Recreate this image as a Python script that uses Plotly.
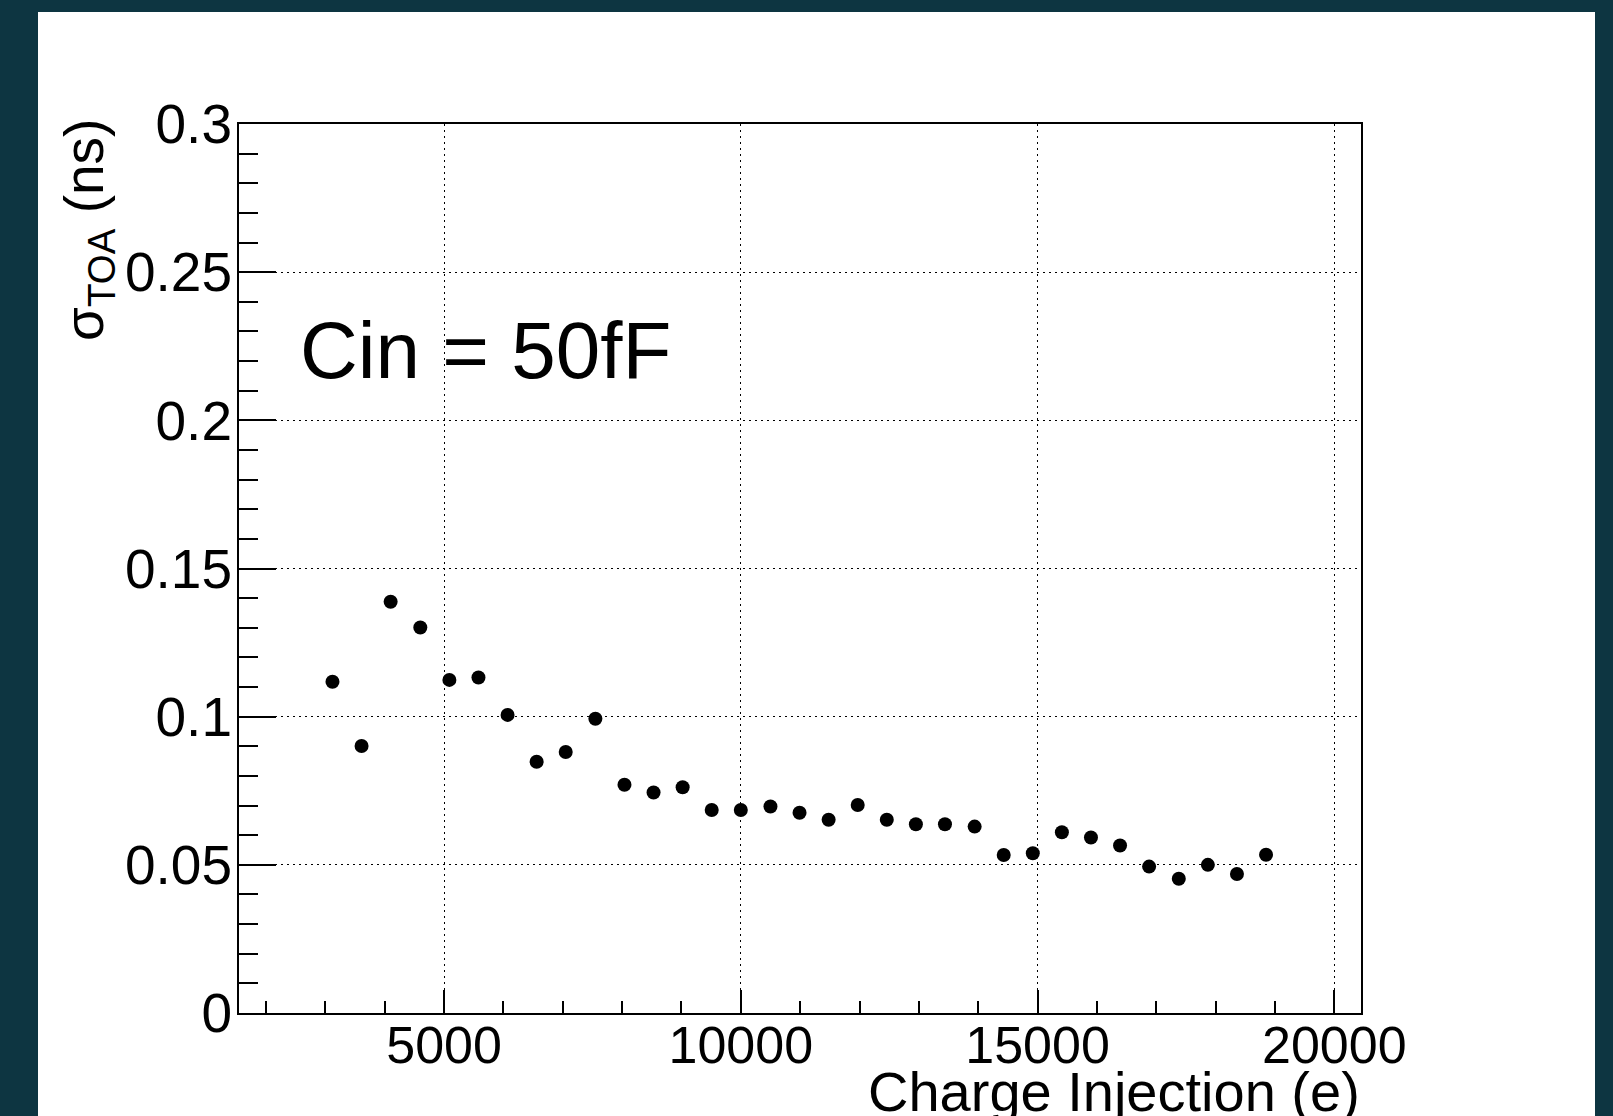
import plotly.graph_objects as go

# ---- data ----
charge_e = [3120, 3610, 4100, 4600, 5090, 5580, 6070, 6560, 7050, 7550,
            8040, 8530, 9020, 9510, 10000, 10500, 10990, 11480, 11970, 12460,
            12950, 13440, 13940, 14430, 14920, 15410, 15900, 16390, 16880, 17380,
            17870, 18360, 18850]
sigma_toa_ns = [0.1118, 0.0901, 0.1388, 0.1301, 0.1124, 0.1132, 0.1006, 0.0848, 0.0881, 0.0993,
                0.0770, 0.0744, 0.0762, 0.0685, 0.0685, 0.0697, 0.0676, 0.0652, 0.0702, 0.0652,
                0.0637, 0.0637, 0.0629, 0.0533, 0.0539, 0.0610, 0.0592, 0.0565, 0.0494, 0.0453,
                0.0500, 0.0469, 0.0534]

x_major = [5000, 10000, 15000, 20000]
x_major_labels = ["5000", "10000", "15000", "20000"]
x_minor = [2000, 3000, 4000, 6000, 7000, 8000, 9000, 11000, 12000, 13000, 14000,
           16000, 17000, 18000, 19000]
y_major = [0, 0.05, 0.1, 0.15, 0.2, 0.25, 0.3]
y_major_labels = ["0", "0.05", "0.1", "0.15", "0.2", "0.25", "0.3"]
y_minor = [0.01, 0.02, 0.03, 0.04, 0.06, 0.07, 0.08, 0.09, 0.11, 0.12, 0.13, 0.14,
           0.16, 0.17, 0.18, 0.19, 0.21, 0.22, 0.23, 0.24, 0.26, 0.27, 0.28, 0.29]

x_title = "Charge Injection (e)"
y_title = "σ<sub>TOA</sub> (ns)"
label_text = "Cin = 50fF"

# ---- geometry (pixels) ----
W, H = 1613, 1116
L, R, T, B = 239, 1361, 124, 1013
pw, ph = R - L, B - T
BG = "#0d3541"


def px(xp):
    return (xp - L) / pw


def py(yp):
    return (B - yp) / ph


FONT = "Liberation Sans, Arial, Helvetica, sans-serif"

fig = go.Figure()
fig.add_trace(go.Scatter(
    x=charge_e, y=sigma_toa_ns, mode="markers",
    marker=dict(color="black", size=14, symbol="circle", line=dict(width=0)),
    showlegend=False, hoverinfo="x+y",
))

axis_common = dict(
    showline=True, linecolor="black", linewidth=2, mirror=True,
    ticks="inside", tickcolor="black", tickwidth=2,
    showgrid=True, gridcolor="black", gridwidth=1, griddash="2px,4px",
    zeroline=False, tickmode="array",
)

fig.update_xaxes(
    **axis_common,
    range=[1545, 20450], tickvals=x_major, ticktext=x_major_labels, ticklen=23,
    tickfont=dict(family=FONT, color="black", size=52),
    ticklabelstandoff=-14,
    minor=dict(tickmode="array", tickvals=x_minor, ticks="inside", ticklen=12,
               tickwidth=2, tickcolor="black", showgrid=False),
)
fig.update_yaxes(
    **axis_common,
    range=[0, 0.3], tickvals=y_major, ticktext=y_major_labels, ticklen=37,
    tickfont=dict(family=FONT, color="black", size=55),
    ticklabelstandoff=-6,
    minor=dict(tickmode="array", tickvals=y_minor, ticks="inside", ticklen=19,
               tickwidth=2, tickcolor="black", showgrid=False),
)

fig.update_layout(
    width=W, height=H,
    margin=dict(l=L, r=W - R, t=T, b=H - B, pad=0),
    paper_bgcolor=BG, plot_bgcolor="white",
    font=dict(family=FONT, color="black"),
    shapes=[dict(type="rect", xref="paper", yref="paper", layer="below",
                 x0=px(38), x1=px(1595), y0=py(1116), y1=py(12),
                 fillcolor="white", line=dict(width=0))],
    annotations=[
        dict(text=label_text, xref="paper", yref="paper", x=px(298), y=py(350),
             xanchor="left", yanchor="middle", showarrow=False,
             font=dict(family=FONT, size=80, color="black")),
        dict(text=x_title, xref="paper", yref="paper", x=px(1362), y=py(1058),
             xanchor="right", yanchor="top", showarrow=False,
             font=dict(family=FONT, size=56, color="black")),
        dict(text=y_title, xref="paper", yref="paper", x=px(88), y=py(117),
             xanchor="center", yanchor="top", showarrow=False, textangle=-90,
             font=dict(family=FONT, size=55, color="black")),
    ],
)

fig.write_html(
    "out.html",
    config={"displayModeBar": False},
    post_script=(
        "document.body.style.margin='0';"
        "document.body.style.padding='0';"
        "document.body.style.overflow='hidden';"
        "document.body.style.background='" + BG + "';"
    ),
)
